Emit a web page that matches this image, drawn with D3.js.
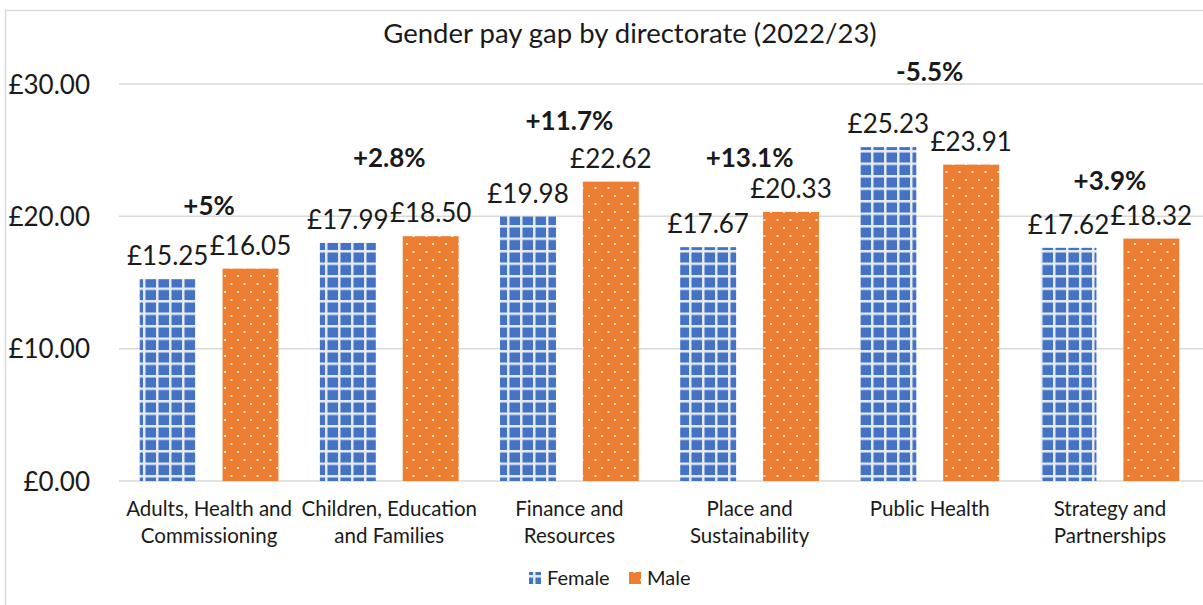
<!DOCTYPE html>
<html><head><meta charset="utf-8">
<script src="https://cdn.jsdelivr.net/npm/d3@7"></script>
<style>body{margin:0;background:#fff}svg{display:block}text{font-family:Lato,"Liberation Sans",sans-serif;fill:#1a1a1a}</style>
</head><body><svg id="c" width="1203" height="605"></svg>
<script>
const title = "Gender pay gap by directorate (2022/23)";
const categories = [
  ["Adults, Health and","Commissioning"],
  ["Children, Education","and Families"],
  ["Finance and","Resources"],
  ["Place and","Sustainability"],
  ["Public Health"],
  ["Strategy and","Partnerships"]
];
const seriesNames = ["Female","Male"];
const female = [15.25, 17.99, 19.98, 17.67, 25.23, 17.62];
const male = [16.05, 18.50, 22.62, 20.33, 23.91, 18.32];
const gapLabels = ["+5%","+2.8%","+11.7%","+13.1%","-5.5%","+3.9%"];
const gapLabelAt = [20.8, 24.45, 27.2, 24.4, 30.9, 22.7];
const yTicks = [0, 10, 20, 30];

const svg = d3.select("#c");
const W = 1203, H = 605;
const M = {left:119, right:3, top:84, bottom:124};

// chart frame
svg.append("rect").attr("x",5.5).attr("y",10.5).attr("width",1400).attr("height",800)
  .attr("fill","#fff").attr("stroke","#d9d9d9").attr("stroke-width",1.5);

const defs = svg.append("defs");
const pf = defs.append("pattern").attr("id","pf").attr("patternUnits","userSpaceOnUse")
  .attr("width",13).attr("height",12.5);
pf.append("rect").attr("width",13).attr("height",12.5).attr("fill","#e4ebf7");
pf.append("rect").attr("x",2.5).attr("y",2.5).attr("width",10.5).attr("height",10).attr("fill","#4472C4");
const pm = defs.append("pattern").attr("id","pm").attr("patternUnits","userSpaceOnUse")
  .attr("width",13).attr("height",16);
pm.append("rect").attr("width",13).attr("height",16).attr("fill","#ED7D31");
pm.append("rect").attr("x",3).attr("y",3).attr("width",2).attr("height",2).attr("fill","#fbe3d3");
pm.append("rect").attr("x",9.5).attr("y",11).attr("width",2).attr("height",2).attr("fill","#fbe3d3");

const keys = categories.map(c => c.join(" "));
const x = d3.scaleBand().domain(keys).range([M.left, W - M.right]);
const sub = d3.scaleBand().domain(seriesNames).range([0, x.bandwidth()]).paddingInner(0.325).paddingOuter(0.25);
const y = d3.scaleLinear().domain([0, 30]).range([H - M.bottom, M.top]);

// gridlines
svg.append("g").selectAll("line").data(yTicks).join("line")
  .attr("x1", M.left).attr("x2", W).attr("y1", d => y(d)).attr("y2", d => y(d))
  .attr("stroke","#d9d9d9").attr("stroke-width",1.5);

// y axis labels
const yAxis = d3.axisLeft(y).tickValues(yTicks).tickSize(0).tickPadding(0)
  .tickFormat(d => "£" + d3.format(".2f")(d));
const ya = svg.append("g").attr("transform", `translate(90,0)`).call(yAxis);
ya.select(".domain").remove();
ya.selectAll("text").attr("font-size", 26).style("font-family","Lato").attr("fill","#1a1a1a").attr("dy","0.35em");

const fc = {Female:"url(#pf)", Male:"url(#pm)"};
const data = keys.map((k,i) => ({k, Female: female[i], Male: male[i], i}));

const g = svg.append("g");
data.forEach(d => {
  seriesNames.forEach(s => {
    const bx = x(d.k) + sub(s);
    g.append("rect").attr("x", bx).attr("y", y(d[s])).attr("width", sub.bandwidth())
      .attr("height", y(0) - y(d[s])).attr("fill", fc[s]);
    g.append("text").attr("x", bx + sub.bandwidth()/2).attr("y", y(d[s]) - 14)
      .attr("text-anchor","middle").attr("font-size",26).text("£" + d3.format(".2f")(d[s]));
  });
  g.append("text").attr("x", x(d.k) + x.bandwidth()/2).attr("y", y(gapLabelAt[d.i]))
    .attr("dy","0.35em").attr("text-anchor","middle").attr("font-size",26).attr("font-weight","bold")
    .text(gapLabels[d.i]);
});

// category labels
const xa = svg.append("g");
categories.forEach((lines, i) => {
  const t = xa.append("text").attr("x", x(keys[i]) + x.bandwidth()/2).attr("y", 516)
    .attr("text-anchor","middle").attr("font-size",20.5).attr("fill","#262626");
  lines.forEach((l, j) => t.append("tspan").attr("x", x(keys[i]) + x.bandwidth()/2).attr("dy", j ? 27 : 0).text(l));
});

// title
svg.append("text").attr("x", 630).attr("y", 43).attr("text-anchor","middle")
  .attr("font-size",27.5).attr("fill","#1a1a1a").text(title);

// legend
const lg = svg.append("g");
const items = [{n:"Female", x:529}, {n:"Male", x:629}];
items.forEach(it => {
  lg.append("rect").attr("x", it.x).attr("y", 572).attr("width", 12).attr("height", 12).attr("fill", fc[it.n]);
  lg.append("text").attr("x", it.x + 18).attr("y", 585).attr("font-size", 20).attr("fill","#262626").text(it.n);
});
</script></body></html>
